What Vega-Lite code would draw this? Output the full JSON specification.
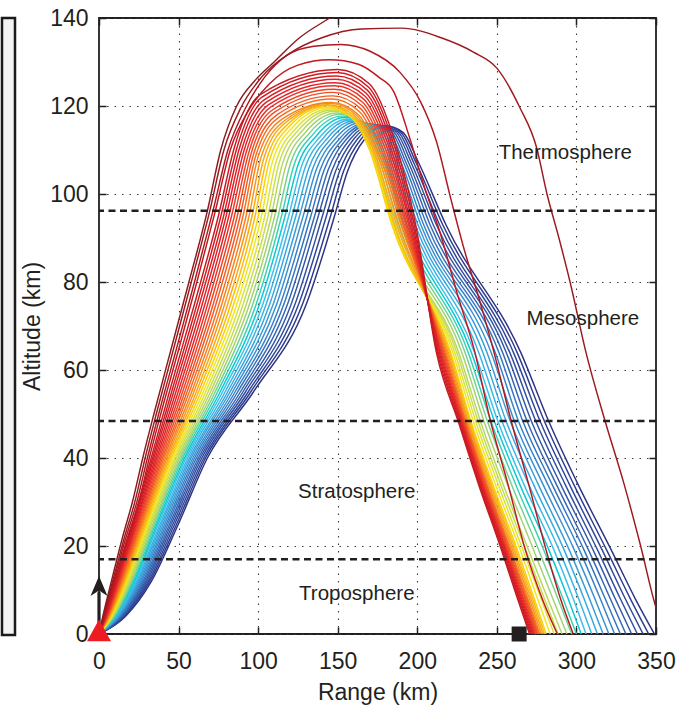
{"$schema":"https://vega.github.io/schema/vega-lite/v6.json","background":"white","padding":{"left":0,"top":6,"right":8,"bottom":4},"bounds":"flush","spacing":84,
"config":{"font":"Liberation Sans","view":{"stroke":"#231f20","strokeWidth":1.8},"axis":{"labelFont":"Liberation Sans","titleFont":"Liberation Sans","labelColor":"#231f20","titleColor":"#231f20","titleFontWeight":"normal","labelFlush":false,"domain":false}},
"datasets":{"rays":[
{"r":39,"x":0,"y":0},{"r":39,"x":16.6,"y":4},{"r":39,"x":33,"y":12},{"r":39,"x":49.9,"y":25},{"r":39,"x":68.1,"y":40},{"r":39,"x":97,"y":55},{"r":39,"x":130.3,"y":75},{"r":39,"x":148,"y":95},{"r":39,"x":156,"y":105},{"r":39,"x":167,"y":112.5},{"r":39,"x":180,"y":115.5},{"r":39,"x":191,"y":114},{"r":39,"x":201,"y":107},{"r":39,"x":218,"y":93},{"r":39,"x":265,"y":64},{"r":39,"x":283,"y":48},{"r":39,"x":301,"y":34},{"r":39,"x":322,"y":19},{"r":39,"x":337,"y":8},{"r":39,"x":349,"y":0},
{"r":38,"x":0,"y":0},{"r":38,"x":16.1,"y":4},{"r":38,"x":32,"y":12},{"r":38,"x":48.8,"y":25},{"r":38,"x":66.9,"y":40},{"r":38,"x":95.3,"y":55},{"r":38,"x":127.9,"y":75},{"r":38,"x":145.5,"y":95},{"r":38,"x":153.6,"y":105.1},{"r":38,"x":164.7,"y":112.5},{"r":38,"x":178,"y":115.6},{"r":38,"x":189.4,"y":114.1},{"r":38,"x":199.4,"y":107},{"r":38,"x":216,"y":93},{"r":38,"x":262.7,"y":64},{"r":38,"x":280.3,"y":48},{"r":38,"x":298.3,"y":34},{"r":38,"x":319.1,"y":19},{"r":38,"x":333.9,"y":8},{"r":38,"x":345.4,"y":0},
{"r":37,"x":0,"y":0},{"r":37,"x":15.5,"y":4},{"r":37,"x":31.1,"y":12},{"r":37,"x":47.6,"y":25},{"r":37,"x":65.8,"y":40},{"r":37,"x":93.7,"y":55},{"r":37,"x":125.5,"y":75},{"r":37,"x":142.9,"y":95},{"r":37,"x":151.1,"y":105.1},{"r":37,"x":162.4,"y":112.5},{"r":37,"x":176,"y":115.6},{"r":37,"x":187.9,"y":114.1},{"r":37,"x":197.9,"y":107},{"r":37,"x":214,"y":93},{"r":37,"x":260.4,"y":64},{"r":37,"x":277.6,"y":48},{"r":37,"x":295.6,"y":34},{"r":37,"x":316.3,"y":19},{"r":37,"x":330.7,"y":8},{"r":37,"x":341.9,"y":0},
{"r":36,"x":0,"y":0},{"r":36,"x":15,"y":4},{"r":36,"x":30.2,"y":12},{"r":36,"x":46.5,"y":25},{"r":36,"x":64.6,"y":40},{"r":36,"x":92,"y":55},{"r":36,"x":123.2,"y":75},{"r":36,"x":140.4,"y":95},{"r":36,"x":148.7,"y":105.2},{"r":36,"x":160.1,"y":112.5},{"r":36,"x":174,"y":115.7},{"r":36,"x":186.3,"y":114.2},{"r":36,"x":196.3,"y":107},{"r":36,"x":212,"y":93},{"r":36,"x":258.1,"y":64},{"r":36,"x":274.9,"y":48},{"r":36,"x":292.9,"y":34},{"r":36,"x":313.4,"y":19},{"r":36,"x":327.6,"y":8},{"r":36,"x":338.3,"y":0},
{"r":35,"x":0,"y":0},{"r":35,"x":14.5,"y":4},{"r":35,"x":29.3,"y":12},{"r":35,"x":45.4,"y":25},{"r":35,"x":63.5,"y":40},{"r":35,"x":90.4,"y":55},{"r":35,"x":120.8,"y":75},{"r":35,"x":137.8,"y":95},{"r":35,"x":146.3,"y":105.3},{"r":35,"x":157.9,"y":112.5},{"r":35,"x":172,"y":115.8},{"r":35,"x":184.7,"y":114.3},{"r":35,"x":194.7,"y":107},{"r":35,"x":210,"y":93},{"r":35,"x":255.9,"y":64},{"r":35,"x":272.1,"y":48},{"r":35,"x":290.1,"y":34},{"r":35,"x":310.6,"y":19},{"r":35,"x":324.4,"y":8},{"r":35,"x":334.7,"y":0},
{"r":34,"x":0,"y":0},{"r":34,"x":14,"y":4},{"r":34,"x":28.4,"y":12},{"r":34,"x":44.4,"y":25},{"r":34,"x":62.4,"y":40},{"r":34,"x":88.8,"y":55},{"r":34,"x":118.5,"y":75},{"r":34,"x":135.5,"y":95},{"r":34,"x":143.9,"y":105.4},{"r":34,"x":155.6,"y":112.5},{"r":34,"x":170,"y":115.9},{"r":34,"x":183.1,"y":114.4},{"r":34,"x":193.1,"y":107},{"r":34,"x":208,"y":93},{"r":34,"x":253.6,"y":64},{"r":34,"x":269.4,"y":48},{"r":34,"x":287.4,"y":34},{"r":34,"x":307.7,"y":19},{"r":34,"x":321.3,"y":8},{"r":34,"x":331.1,"y":0},
{"r":33,"x":0,"y":0},{"r":33,"x":13.5,"y":4},{"r":33,"x":27.6,"y":12},{"r":33,"x":43.3,"y":25},{"r":33,"x":61.2,"y":40},{"r":33,"x":87.1,"y":55},{"r":33,"x":116.2,"y":75},{"r":33,"x":133.1,"y":95},{"r":33,"x":141.4,"y":105.4},{"r":33,"x":153.3,"y":112.5},{"r":33,"x":168,"y":115.9},{"r":33,"x":181.6,"y":114.4},{"r":33,"x":191.6,"y":107},{"r":33,"x":206,"y":93},{"r":33,"x":251.3,"y":64},{"r":33,"x":266.7,"y":48},{"r":33,"x":284.7,"y":34},{"r":33,"x":304.9,"y":19},{"r":33,"x":318.1,"y":8},{"r":33,"x":327.6,"y":0},
{"r":32,"x":0,"y":0},{"r":32,"x":13,"y":4},{"r":32,"x":26.7,"y":12},{"r":32,"x":42.3,"y":25},{"r":32,"x":60.1,"y":40},{"r":32,"x":85.5,"y":55},{"r":32,"x":114,"y":75},{"r":32,"x":130.7,"y":95},{"r":32,"x":139,"y":105.5},{"r":32,"x":151,"y":112.5},{"r":32,"x":166,"y":116},{"r":32,"x":180,"y":114.5},{"r":32,"x":190,"y":107},{"r":32,"x":204,"y":93},{"r":32,"x":249,"y":64},{"r":32,"x":264,"y":48},{"r":32,"x":282,"y":34},{"r":32,"x":302,"y":19},{"r":32,"x":315,"y":8},{"r":32,"x":324,"y":0},
{"r":31,"x":0,"y":0},{"r":31,"x":12.5,"y":4},{"r":31,"x":25.9,"y":12},{"r":31,"x":41.3,"y":25},{"r":31,"x":59,"y":40},{"r":31,"x":83.9,"y":55},{"r":31,"x":111.7,"y":75},{"r":31,"x":128.3,"y":95},{"r":31,"x":136.6,"y":105.6},{"r":31,"x":148.6,"y":112.6},{"r":31,"x":164,"y":116.2},{"r":31,"x":178,"y":114.7},{"r":31,"x":188.2,"y":107.2},{"r":31,"x":202.2,"y":93},{"r":31,"x":246.4,"y":64},{"r":31,"x":261.4,"y":48},{"r":31,"x":279,"y":34},{"r":31,"x":298.8,"y":19},{"r":31,"x":311.6,"y":8},{"r":31,"x":320.4,"y":0},
{"r":30,"x":0,"y":0},{"r":30,"x":12.1,"y":4},{"r":30,"x":25.1,"y":12},{"r":30,"x":40.3,"y":25},{"r":30,"x":57.9,"y":40},{"r":30,"x":82.3,"y":55},{"r":30,"x":109.5,"y":75},{"r":30,"x":126,"y":95},{"r":30,"x":134.2,"y":105.7},{"r":30,"x":146.2,"y":112.7},{"r":30,"x":162,"y":116.4},{"r":30,"x":176,"y":114.9},{"r":30,"x":186.4,"y":107.4},{"r":30,"x":200.4,"y":93},{"r":30,"x":243.8,"y":64},{"r":30,"x":258.8,"y":48},{"r":30,"x":276,"y":34},{"r":30,"x":295.6,"y":19},{"r":30,"x":308.2,"y":8},{"r":30,"x":316.8,"y":0},
{"r":29,"x":0,"y":0},{"r":29,"x":11.6,"y":4},{"r":29,"x":24.3,"y":12},{"r":29,"x":39.3,"y":25},{"r":29,"x":56.9,"y":40},{"r":29,"x":80.8,"y":55},{"r":29,"x":107.3,"y":75},{"r":29,"x":123.7,"y":95},{"r":29,"x":131.8,"y":105.8},{"r":29,"x":143.8,"y":112.8},{"r":29,"x":160,"y":116.6},{"r":29,"x":174,"y":115.1},{"r":29,"x":184.6,"y":107.6},{"r":29,"x":198.6,"y":93},{"r":29,"x":241.2,"y":64},{"r":29,"x":256.2,"y":48},{"r":29,"x":273,"y":34},{"r":29,"x":292.4,"y":19},{"r":29,"x":304.8,"y":8},{"r":29,"x":313.2,"y":0},
{"r":28,"x":0,"y":0},{"r":28,"x":11.2,"y":4},{"r":28,"x":23.6,"y":12},{"r":28,"x":38.4,"y":25},{"r":28,"x":55.8,"y":40},{"r":28,"x":79.2,"y":55},{"r":28,"x":105.1,"y":75},{"r":28,"x":121.4,"y":95},{"r":28,"x":129.4,"y":105.9},{"r":28,"x":141.4,"y":112.9},{"r":28,"x":158,"y":116.8},{"r":28,"x":172,"y":115.3},{"r":28,"x":182.8,"y":107.8},{"r":28,"x":196.8,"y":93},{"r":28,"x":238.6,"y":64},{"r":28,"x":253.6,"y":48},{"r":28,"x":270,"y":34},{"r":28,"x":289.2,"y":19},{"r":28,"x":301.4,"y":8},{"r":28,"x":309.6,"y":0},
{"r":27,"x":0,"y":0},{"r":27,"x":10.7,"y":4},{"r":27,"x":22.8,"y":12},{"r":27,"x":37.4,"y":25},{"r":27,"x":54.7,"y":40},{"r":27,"x":77.6,"y":55},{"r":27,"x":103,"y":75},{"r":27,"x":119.2,"y":95},{"r":27,"x":127,"y":106},{"r":27,"x":139,"y":113},{"r":27,"x":156,"y":117},{"r":27,"x":170,"y":115.5},{"r":27,"x":181,"y":108},{"r":27,"x":195,"y":93},{"r":27,"x":236,"y":64},{"r":27,"x":251,"y":48},{"r":27,"x":267,"y":34},{"r":27,"x":286,"y":19},{"r":27,"x":298,"y":8},{"r":27,"x":306,"y":0},
{"r":26,"x":0,"y":0},{"r":26,"x":10.3,"y":4},{"r":26,"x":22.1,"y":12},{"r":26,"x":36.5,"y":25},{"r":26,"x":53.7,"y":40},{"r":26,"x":76.1,"y":55},{"r":26,"x":100.9,"y":75},{"r":26,"x":116.9,"y":95},{"r":26,"x":124.6,"y":106.1},{"r":26,"x":136.8,"y":113.3},{"r":26,"x":154.4,"y":117.4},{"r":26,"x":168.6,"y":115.7},{"r":26,"x":179.6,"y":108.2},{"r":26,"x":193.2,"y":93},{"r":26,"x":234,"y":64},{"r":26,"x":248.8,"y":48},{"r":26,"x":264.4,"y":34},{"r":26,"x":282.8,"y":19},{"r":26,"x":294.8,"y":8},{"r":26,"x":303,"y":0},
{"r":25,"x":0,"y":0},{"r":25,"x":9.9,"y":4},{"r":25,"x":21.3,"y":12},{"r":25,"x":35.6,"y":25},{"r":25,"x":52.6,"y":40},{"r":25,"x":74.5,"y":55},{"r":25,"x":98.8,"y":75},{"r":25,"x":114.7,"y":95},{"r":25,"x":122.2,"y":106.2},{"r":25,"x":134.6,"y":113.6},{"r":25,"x":152.8,"y":117.7},{"r":25,"x":167.2,"y":115.9},{"r":25,"x":178.2,"y":108.4},{"r":25,"x":191.4,"y":93},{"r":25,"x":232,"y":64},{"r":25,"x":246.6,"y":48},{"r":25,"x":261.8,"y":34},{"r":25,"x":279.6,"y":19},{"r":25,"x":291.6,"y":8},{"r":25,"x":300,"y":0},
{"r":24,"x":0,"y":0},{"r":24,"x":9.5,"y":4},{"r":24,"x":20.6,"y":12},{"r":24,"x":34.7,"y":25},{"r":24,"x":51.6,"y":40},{"r":24,"x":73,"y":55},{"r":24,"x":96.7,"y":75},{"r":24,"x":112.6,"y":95},{"r":24,"x":119.8,"y":106.3},{"r":24,"x":132.4,"y":113.9},{"r":24,"x":151.2,"y":118.1},{"r":24,"x":165.8,"y":116.1},{"r":24,"x":176.8,"y":108.6},{"r":24,"x":189.6,"y":93},{"r":24,"x":230,"y":64},{"r":24,"x":244.4,"y":48},{"r":24,"x":259.2,"y":34},{"r":24,"x":276.4,"y":19},{"r":24,"x":288.4,"y":8},{"r":24,"x":297,"y":0},
{"r":23,"x":0,"y":0},{"r":23,"x":9.1,"y":4},{"r":23,"x":20,"y":12},{"r":23,"x":33.9,"y":25},{"r":23,"x":50.6,"y":40},{"r":23,"x":71.5,"y":55},{"r":23,"x":94.6,"y":75},{"r":23,"x":110.4,"y":95},{"r":23,"x":117.4,"y":106.4},{"r":23,"x":130.2,"y":114.2},{"r":23,"x":149.6,"y":118.4},{"r":23,"x":164.4,"y":116.3},{"r":23,"x":175.4,"y":108.8},{"r":23,"x":187.8,"y":93},{"r":23,"x":228,"y":64},{"r":23,"x":242.2,"y":48},{"r":23,"x":256.6,"y":34},{"r":23,"x":273.2,"y":19},{"r":23,"x":285.2,"y":8},{"r":23,"x":294,"y":0},
{"r":22,"x":0,"y":0},{"r":22,"x":8.7,"y":4},{"r":22,"x":19.3,"y":12},{"r":22,"x":33,"y":25},{"r":22,"x":49.6,"y":40},{"r":22,"x":70,"y":55},{"r":22,"x":92.6,"y":75},{"r":22,"x":108.3,"y":95},{"r":22,"x":115,"y":106.5},{"r":22,"x":128,"y":114.5},{"r":22,"x":148,"y":118.8},{"r":22,"x":163,"y":116.5},{"r":22,"x":174,"y":109},{"r":22,"x":186,"y":93},{"r":22,"x":226,"y":64},{"r":22,"x":240,"y":48},{"r":22,"x":254,"y":34},{"r":22,"x":270,"y":19},{"r":22,"x":282,"y":8},{"r":22,"x":291,"y":0},
{"r":21,"x":0,"y":0},{"r":21,"x":8.3,"y":4},{"r":21,"x":18.6,"y":12},{"r":21,"x":32.2,"y":25},{"r":21,"x":48.6,"y":40},{"r":21,"x":68.5,"y":55},{"r":21,"x":90.6,"y":75},{"r":21,"x":106.2,"y":95},{"r":21,"x":113,"y":106.8},{"r":21,"x":126,"y":114.8},{"r":21,"x":146.5,"y":119.1},{"r":21,"x":161.8,"y":116.8},{"r":21,"x":173,"y":109.3},{"r":21,"x":185.5,"y":93},{"r":21,"x":224.8,"y":64},{"r":21,"x":238.5,"y":48},{"r":21,"x":252.4,"y":34},{"r":21,"x":268.3,"y":19},{"r":21,"x":279.9,"y":8},{"r":21,"x":288.5,"y":0},
{"r":20,"x":0,"y":0},{"r":20,"x":8,"y":4},{"r":20,"x":18,"y":12},{"r":20,"x":31.4,"y":25},{"r":20,"x":47.6,"y":40},{"r":20,"x":67,"y":55},{"r":20,"x":88.6,"y":75},{"r":20,"x":104.2,"y":95},{"r":20,"x":111,"y":107},{"r":20,"x":124,"y":115},{"r":20,"x":145,"y":119.3},{"r":20,"x":160.5,"y":117},{"r":20,"x":172,"y":109.5},{"r":20,"x":185,"y":93},{"r":20,"x":223.5,"y":64},{"r":20,"x":237,"y":48},{"r":20,"x":250.8,"y":34},{"r":20,"x":266.5,"y":19},{"r":20,"x":277.8,"y":8},{"r":20,"x":286,"y":0},
{"r":19,"x":0,"y":0},{"r":19,"x":7.6,"y":4},{"r":19,"x":17.4,"y":12},{"r":19,"x":30.6,"y":25},{"r":19,"x":46.6,"y":40},{"r":19,"x":65.5,"y":55},{"r":19,"x":86.6,"y":75},{"r":19,"x":102.1,"y":95},{"r":19,"x":109,"y":107.3},{"r":19,"x":122,"y":115.3},{"r":19,"x":143.5,"y":119.6},{"r":19,"x":159.3,"y":117.3},{"r":19,"x":171,"y":109.8},{"r":19,"x":184.5,"y":93},{"r":19,"x":222.3,"y":64},{"r":19,"x":235.5,"y":48},{"r":19,"x":249.1,"y":34},{"r":19,"x":264.8,"y":19},{"r":19,"x":275.6,"y":8},{"r":19,"x":283.5,"y":0},
{"r":18,"x":0,"y":0},{"r":18,"x":7.3,"y":4},{"r":18,"x":16.8,"y":12},{"r":18,"x":29.8,"y":25},{"r":18,"x":45.6,"y":40},{"r":18,"x":64,"y":55},{"r":18,"x":84.7,"y":75},{"r":18,"x":100.1,"y":95},{"r":18,"x":107,"y":107.5},{"r":18,"x":120,"y":115.5},{"r":18,"x":142,"y":119.8},{"r":18,"x":158,"y":117.5},{"r":18,"x":170,"y":110},{"r":18,"x":184,"y":93},{"r":18,"x":221,"y":64},{"r":18,"x":234,"y":48},{"r":18,"x":247.5,"y":34},{"r":18,"x":263,"y":19},{"r":18,"x":273.5,"y":8},{"r":18,"x":281,"y":0},
{"r":17,"x":0,"y":0},{"r":17,"x":6.9,"y":4},{"r":17,"x":16.2,"y":12},{"r":17,"x":29.1,"y":25},{"r":17,"x":44.6,"y":40},{"r":17,"x":62.5,"y":55},{"r":17,"x":82.8,"y":75},{"r":17,"x":98.1,"y":95},{"r":17,"x":105.3,"y":107.8},{"r":17,"x":118.8,"y":115.9},{"r":17,"x":143,"y":120.1},{"r":17,"x":159.3,"y":117.6},{"r":17,"x":171.8,"y":109.5},{"r":17,"x":185.5,"y":93},{"r":17,"x":220.3,"y":64},{"r":17,"x":233.3,"y":48},{"r":17,"x":246.6,"y":34},{"r":17,"x":262,"y":19},{"r":17,"x":272.5,"y":8},{"r":17,"x":280,"y":0},
{"r":16,"x":0,"y":0},{"r":16,"x":6.6,"y":4},{"r":16,"x":15.6,"y":12},{"r":16,"x":28.3,"y":25},{"r":16,"x":43.7,"y":40},{"r":16,"x":61.1,"y":55},{"r":16,"x":80.9,"y":75},{"r":16,"x":96.2,"y":95},{"r":16,"x":103.5,"y":108},{"r":16,"x":117.5,"y":116.3},{"r":16,"x":144,"y":120.3},{"r":16,"x":160.5,"y":117.8},{"r":16,"x":173.5,"y":109},{"r":16,"x":187,"y":93},{"r":16,"x":219.5,"y":64},{"r":16,"x":232.5,"y":48},{"r":16,"x":245.8,"y":34},{"r":16,"x":261,"y":19},{"r":16,"x":271.5,"y":8},{"r":16,"x":279,"y":0},
{"r":15,"x":0,"y":0},{"r":15,"x":6.3,"y":4},{"r":15,"x":15.1,"y":12},{"r":15,"x":27.6,"y":25},{"r":15,"x":42.7,"y":40},{"r":15,"x":59.6,"y":55},{"r":15,"x":79,"y":75},{"r":15,"x":94.3,"y":95},{"r":15,"x":101.8,"y":108.3},{"r":15,"x":116.3,"y":116.6},{"r":15,"x":145,"y":120.6},{"r":15,"x":161.8,"y":117.9},{"r":15,"x":175.3,"y":108.5},{"r":15,"x":188.5,"y":93},{"r":15,"x":218.8,"y":64},{"r":15,"x":231.8,"y":48},{"r":15,"x":244.9,"y":34},{"r":15,"x":260,"y":19},{"r":15,"x":270.5,"y":8},{"r":15,"x":278,"y":0},
{"r":14,"x":0,"y":0},{"r":14,"x":6,"y":4},{"r":14,"x":14.6,"y":12},{"r":14,"x":26.9,"y":25},{"r":14,"x":41.8,"y":40},{"r":14,"x":58.2,"y":55},{"r":14,"x":77.2,"y":75},{"r":14,"x":92.4,"y":95},{"r":14,"x":100,"y":108.5},{"r":14,"x":115,"y":117},{"r":14,"x":146,"y":120.8},{"r":14,"x":163,"y":118},{"r":14,"x":177,"y":108},{"r":14,"x":190,"y":93},{"r":14,"x":218,"y":64},{"r":14,"x":231,"y":48},{"r":14,"x":244,"y":34},{"r":14,"x":259,"y":19},{"r":14,"x":269.5,"y":8},{"r":14,"x":277,"y":0},
{"r":13,"x":0,"y":0},{"r":13,"x":5.7,"y":4},{"r":13,"x":14,"y":12},{"r":13,"x":26.3,"y":25},{"r":13,"x":40.8,"y":40},{"r":13,"x":56.7,"y":55},{"r":13,"x":75.4,"y":75},{"r":13,"x":90.5,"y":95},{"r":13,"x":98.5,"y":108.7},{"r":13,"x":113.6,"y":117.6},{"r":13,"x":146.4,"y":121.6},{"r":13,"x":163.7,"y":118.7},{"r":13,"x":177.8,"y":108.5},{"r":13,"x":190.9,"y":93},{"r":13,"x":217.4,"y":64},{"r":13,"x":230.5,"y":48},{"r":13,"x":243.5,"y":34},{"r":13,"x":258.4,"y":19},{"r":13,"x":268.9,"y":8},{"r":13,"x":276.4,"y":0},
{"r":12,"x":0,"y":0},{"r":12,"x":5.4,"y":4},{"r":12,"x":13.6,"y":12},{"r":12,"x":25.6,"y":25},{"r":12,"x":39.9,"y":40},{"r":12,"x":55.3,"y":55},{"r":12,"x":73.5,"y":75},{"r":12,"x":88.7,"y":95},{"r":12,"x":97,"y":108.9},{"r":12,"x":112.2,"y":118.1},{"r":12,"x":146.8,"y":122.3},{"r":12,"x":164.4,"y":119.4},{"r":12,"x":178.6,"y":109},{"r":12,"x":191.8,"y":93},{"r":12,"x":216.8,"y":64},{"r":12,"x":230,"y":48},{"r":12,"x":242.9,"y":34},{"r":12,"x":257.8,"y":19},{"r":12,"x":268.2,"y":8},{"r":12,"x":275.7,"y":0},
{"r":11,"x":0,"y":0},{"r":11,"x":5.1,"y":4},{"r":11,"x":13.1,"y":12},{"r":11,"x":25,"y":25},{"r":11,"x":39,"y":40},{"r":11,"x":53.9,"y":55},{"r":11,"x":71.8,"y":75},{"r":11,"x":86.9,"y":95},{"r":11,"x":95.5,"y":109.1},{"r":11,"x":110.8,"y":118.7},{"r":11,"x":147.2,"y":123.1},{"r":11,"x":165.1,"y":120.1},{"r":11,"x":179.4,"y":109.5},{"r":11,"x":192.7,"y":93},{"r":11,"x":216.2,"y":64},{"r":11,"x":229.5,"y":48},{"r":11,"x":242.4,"y":34},{"r":11,"x":257.2,"y":19},{"r":11,"x":267.6,"y":8},{"r":11,"x":275.1,"y":0},
{"r":10,"x":0,"y":0},{"r":10,"x":4.9,"y":4},{"r":10,"x":12.6,"y":12},{"r":10,"x":24.3,"y":25},{"r":10,"x":38.1,"y":40},{"r":10,"x":52.5,"y":55},{"r":10,"x":70,"y":75},{"r":10,"x":85.1,"y":95},{"r":10,"x":94,"y":109.3},{"r":10,"x":109.4,"y":119.2},{"r":10,"x":147.6,"y":123.8},{"r":10,"x":165.8,"y":120.8},{"r":10,"x":180.2,"y":110},{"r":10,"x":193.6,"y":93},{"r":10,"x":215.6,"y":64},{"r":10,"x":229,"y":48},{"r":10,"x":241.8,"y":34},{"r":10,"x":256.6,"y":19},{"r":10,"x":266.9,"y":8},{"r":10,"x":274.4,"y":0},
{"r":9,"x":0,"y":0},{"r":9,"x":4.6,"y":4},{"r":9,"x":12.2,"y":12},{"r":9,"x":23.7,"y":25},{"r":9,"x":37.2,"y":40},{"r":9,"x":51.1,"y":55},{"r":9,"x":68.3,"y":75},{"r":9,"x":83.3,"y":95},{"r":9,"x":92.5,"y":109.5},{"r":9,"x":108,"y":119.8},{"r":9,"x":148,"y":124.6},{"r":9,"x":166.5,"y":121.5},{"r":9,"x":181,"y":110.5},{"r":9,"x":194.5,"y":93},{"r":9,"x":215,"y":64},{"r":9,"x":228.5,"y":48},{"r":9,"x":241.3,"y":34},{"r":9,"x":256,"y":19},{"r":9,"x":266.3,"y":8},{"r":9,"x":273.8,"y":0},
{"r":8,"x":0,"y":0},{"r":8,"x":4.4,"y":4},{"r":8,"x":11.7,"y":12},{"r":8,"x":23.1,"y":25},{"r":8,"x":36.3,"y":40},{"r":8,"x":49.7,"y":55},{"r":8,"x":66.6,"y":75},{"r":8,"x":81.6,"y":95},{"r":8,"x":91,"y":109.7},{"r":8,"x":106.6,"y":120.3},{"r":8,"x":148.4,"y":125.3},{"r":8,"x":167.2,"y":122.2},{"r":8,"x":181.8,"y":111},{"r":8,"x":195.4,"y":93},{"r":8,"x":214.4,"y":64},{"r":8,"x":228,"y":48},{"r":8,"x":240.7,"y":34},{"r":8,"x":255.4,"y":19},{"r":8,"x":265.6,"y":8},{"r":8,"x":273.1,"y":0},
{"r":7,"x":0,"y":0},{"r":7,"x":4.1,"y":4},{"r":7,"x":11.3,"y":12},{"r":7,"x":22.6,"y":25},{"r":7,"x":35.4,"y":40},{"r":7,"x":48.3,"y":55},{"r":7,"x":64.9,"y":75},{"r":7,"x":79.9,"y":95},{"r":7,"x":89.5,"y":109.9},{"r":7,"x":105.2,"y":120.9},{"r":7,"x":148.8,"y":126.1},{"r":7,"x":167.9,"y":122.9},{"r":7,"x":182.6,"y":111.5},{"r":7,"x":196.3,"y":93},{"r":7,"x":213.8,"y":64},{"r":7,"x":227.5,"y":48},{"r":7,"x":240.2,"y":34},{"r":7,"x":254.8,"y":19},{"r":7,"x":265,"y":8},{"r":7,"x":272.5,"y":0},
{"r":6,"x":0,"y":0},{"r":6,"x":3.9,"y":4},{"r":6,"x":10.9,"y":12},{"r":6,"x":22,"y":25},{"r":6,"x":34.5,"y":40},{"r":6,"x":46.9,"y":55},{"r":6,"x":63.2,"y":75},{"r":6,"x":78.3,"y":95},{"r":6,"x":88,"y":110.1},{"r":6,"x":103.8,"y":121.4},{"r":6,"x":149.2,"y":126.8},{"r":6,"x":168.6,"y":123.6},{"r":6,"x":183.4,"y":112},{"r":6,"x":197.2,"y":93},{"r":6,"x":213.2,"y":64},{"r":6,"x":227,"y":48},{"r":6,"x":239.6,"y":34},{"r":6,"x":254.2,"y":19},{"r":6,"x":264.3,"y":8},{"r":6,"x":271.8,"y":0},
{"r":5,"x":0,"y":0},{"r":5,"x":3.7,"y":4},{"r":5,"x":10.6,"y":12},{"r":5,"x":21.5,"y":25},{"r":5,"x":33.7,"y":40},{"r":5,"x":45.6,"y":55},{"r":5,"x":61.6,"y":75},{"r":5,"x":76.6,"y":95},{"r":5,"x":86.5,"y":110.3},{"r":5,"x":102.4,"y":122},{"r":5,"x":149.6,"y":127.6},{"r":5,"x":169.3,"y":124.3},{"r":5,"x":184.2,"y":112.5},{"r":5,"x":198.1,"y":93},{"r":5,"x":212.6,"y":64},{"r":5,"x":226.5,"y":48},{"r":5,"x":239.1,"y":34},{"r":5,"x":253.6,"y":19},{"r":5,"x":263.7,"y":8},{"r":5,"x":271.2,"y":0},
{"r":4,"x":0,"y":0},{"r":4,"x":3.5,"y":4},{"r":4,"x":10.2,"y":12},{"r":4,"x":21,"y":25},{"r":4,"x":32.8,"y":40},{"r":4,"x":44.2,"y":55},{"r":4,"x":60,"y":75},{"r":4,"x":75,"y":95},{"r":4,"x":85,"y":110.5},{"r":4,"x":101,"y":122.5},{"r":4,"x":150,"y":128.3},{"r":4,"x":170,"y":125},{"r":4,"x":185,"y":113},{"r":4,"x":199,"y":93},{"r":4,"x":212,"y":64},{"r":4,"x":226,"y":48},{"r":4,"x":238.5,"y":34},{"r":4,"x":253,"y":19},{"r":4,"x":263,"y":8},{"r":4,"x":270.5,"y":0},
{"r":3,"x":0,"y":0},{"r":3,"x":3.2,"y":4},{"r":3,"x":9.7,"y":12},{"r":3,"x":18,"y":22},{"r":3,"x":25,"y":30},{"r":3,"x":31.6,"y":40},{"r":3,"x":38.8,"y":50},{"r":3,"x":50.3,"y":65},{"r":3,"x":61.5,"y":80},{"r":3,"x":73,"y":96},{"r":3,"x":82.5,"y":110},{"r":3,"x":94,"y":119},{"r":3,"x":107,"y":125},{"r":3,"x":125,"y":129.3},{"r":3,"x":145,"y":130.5},{"r":3,"x":163,"y":129.5},{"r":3,"x":176,"y":126.5},{"r":3,"x":185,"y":123.4},{"r":3,"x":195,"y":113},{"r":3,"x":205,"y":101},{"r":3,"x":214,"y":91.6},{"r":3,"x":225,"y":77.5},{"r":3,"x":236,"y":64.3},{"r":3,"x":246,"y":48.4},{"r":3,"x":257,"y":34},{"r":3,"x":268,"y":19},{"r":3,"x":278.5,"y":8},{"r":3,"x":288,"y":0},
{"r":2,"x":0,"y":0},{"r":2,"x":3,"y":4},{"r":2,"x":9.2,"y":12},{"r":2,"x":17,"y":22},{"r":2,"x":23.8,"y":30},{"r":2,"x":30.4,"y":40},{"r":2,"x":37.5,"y":50},{"r":2,"x":48.8,"y":65},{"r":2,"x":60,"y":80},{"r":2,"x":71.5,"y":96},{"r":2,"x":81,"y":110},{"r":2,"x":92,"y":119.5},{"r":2,"x":104,"y":126.5},{"r":2,"x":118,"y":131.5},{"r":2,"x":135,"y":133.6},{"r":2,"x":152,"y":134},{"r":2,"x":170,"y":132.5},{"r":2,"x":189,"y":127.7},{"r":2,"x":202,"y":121},{"r":2,"x":212,"y":112},{"r":2,"x":221,"y":99},{"r":2,"x":229,"y":88},{"r":2,"x":239,"y":76},{"r":2,"x":248,"y":64.3},{"r":2,"x":259,"y":48.4},{"r":2,"x":270,"y":34},{"r":2,"x":281,"y":19},{"r":2,"x":290,"y":8},{"r":2,"x":298,"y":0},
{"r":1,"x":0,"y":0},{"r":1,"x":2.7,"y":4},{"r":1,"x":8.6,"y":12},{"r":1,"x":16,"y":22},{"r":1,"x":22.5,"y":30},{"r":1,"x":29,"y":40},{"r":1,"x":36,"y":50},{"r":1,"x":47,"y":65},{"r":1,"x":58,"y":80},{"r":1,"x":69.5,"y":96},{"r":1,"x":78.5,"y":110},{"r":1,"x":89,"y":119.5},{"r":1,"x":102,"y":126.5},{"r":1,"x":120,"y":132},{"r":1,"x":140,"y":135.5},{"r":1,"x":165,"y":137.5},{"r":1,"x":190,"y":137.7},{"r":1,"x":215,"y":135.5},{"r":1,"x":235,"y":132.3},{"r":1,"x":250,"y":128.6},{"r":1,"x":264.5,"y":119.6},{"r":1,"x":275,"y":110.5},{"r":1,"x":281.5,"y":100},{"r":1,"x":289,"y":90},{"r":1,"x":296,"y":80},{"r":1,"x":306,"y":64},{"r":1,"x":318,"y":48.4},{"r":1,"x":330,"y":34},{"r":1,"x":340,"y":20.5},{"r":1,"x":350,"y":6},{"r":1,"x":356,"y":0},
{"r":0,"x":0,"y":0},{"r":0,"x":2.4,"y":4},{"r":0,"x":7.8,"y":12},{"r":0,"x":14.8,"y":22},{"r":0,"x":21,"y":30},{"r":0,"x":27.5,"y":40},{"r":0,"x":34.5,"y":50},{"r":0,"x":45.5,"y":65},{"r":0,"x":56.5,"y":80},{"r":0,"x":68,"y":96},{"r":0,"x":76.5,"y":110},{"r":0,"x":86.5,"y":120},{"r":0,"x":98.5,"y":126},{"r":0,"x":110,"y":130},{"r":0,"x":126,"y":135.5},{"r":0,"x":145,"y":140},{"r":0,"x":165,"y":144.5}
]},
"hconcat":[
{"width":13,"height":617,"view":{"fill":"#f3f3f3","stroke":"#1a1a1a","strokeWidth":2.5},"data":{"values":[]},"mark":"point"},
{"width":557,"height":616,"resolve":{"axis":{"x":"independent","y":"independent"}},
"layer":[
{"data":{"name":"rays"},"mark":{"type":"line","clip":true,"strokeWidth":1.45,"interpolate":"monotone"},
"encoding":{
"x":{"field":"x","type":"quantitative","scale":{"domain":[0,350],"nice":false,"zero":false},"axis":{"orient":"bottom","values":[0,50,100,150,200,250,300,350],"title":"Range (km)","ticks":false,"grid":true,"gridDash":[1.5,6],"gridColor":"#3a3a3a","gridWidth":1.1,"labelFontSize":23,"labelPadding":16,"titleFontSize":23,"titlePadding":8,"labelFlush":false}},
"y":{"field":"y","type":"quantitative","scale":{"domain":[0,140],"nice":false,"zero":false},"axis":{"orient":"left","values":[0,20,40,60,80,100,120,140],"title":"Altitude (km)","ticks":false,"grid":true,"gridDash":[1.5,6],"gridColor":"#3a3a3a","gridWidth":1.1,"labelFontSize":23,"labelPadding":11,"titleFontSize":23,"titlePadding":5,"labelFlush":false}},
"color":{"field":"r","type":"quantitative","scale":{"domain":[0,3,8,12,15,19,23,27,31,35,39],"range":["#8b1a1d","#c0161d","#e3232a","#f15a24","#f7941d","#f3e51a","#a5d16f","#3dbfe9","#3a8fd0","#3557a8","#2b3385"]},"legend":null},
"detail":{"field":"r","type":"nominal"}}},
{"data":{"values":[{"h":17},{"h":48.4},{"h":96.2}]},"mark":{"type":"rule","strokeDash":[7,4.5],"strokeWidth":2.6,"color":"#231f20"},
"encoding":{"y":{"field":"h","type":"quantitative","scale":{"domain":[0,140],"nice":false,"zero":false},"axis":{"orient":"left","values":[0,20,40,60,80,100,120,140],"labels":false,"tickSize":-7,"tickWidth":1.5,"tickColor":"#231f20","grid":false,"title":null}}}},
{"data":{"values":[{"t":"Thermosphere","x":293,"y":109.3},{"t":"Mesosphere","x":304,"y":71.6},{"t":"Stratosphere","x":162,"y":32.3},{"t":"Troposphere","x":162,"y":9.1}]},
"mark":{"type":"text","fontSize":20.5,"color":"#231f20","font":"Liberation Sans","align":"center","baseline":"middle"},
"encoding":{"x":{"field":"x","type":"quantitative","scale":{"domain":[0,350],"nice":false,"zero":false},"axis":{"orient":"top","values":[0,50,100,150,200,250,300,350],"labels":false,"tickSize":-7,"tickWidth":1.5,"tickColor":"#231f20","grid":false,"title":null}},
"y":{"field":"y","type":"quantitative","scale":{"domain":[0,140],"nice":false,"zero":false},"axis":{"orient":"right","values":[0,20,40,60,80,100,120,140],"labels":false,"tickSize":-7,"tickWidth":1.5,"tickColor":"#231f20","grid":false,"title":null}},
"text":{"field":"t"}}},
{"data":{"values":[{"x":0,"y":0,"y2":9.5}]},"mark":{"type":"rule","strokeWidth":3.2,"color":"#231f20"},
"encoding":{"x":{"field":"x","type":"quantitative","scale":{"domain":[0,350],"nice":false,"zero":false},"axis":{"orient":"bottom","values":[0,50,100,150,200,250,300,350],"labels":false,"tickSize":-7,"tickWidth":1.5,"tickColor":"#231f20","grid":false,"title":null}},
"y":{"field":"y","type":"quantitative","scale":{"domain":[0,140],"nice":false,"zero":false},"axis":null},"y2":{"field":"y2"}}},
{"data":{"values":[{"x":0,"y":10.9}]},"mark":{"type":"point","filled":true,"shape":"M0,-1L0.85,1L0,0.45L-0.85,1Z","size":400,"color":"#231f20","opacity":1},
"encoding":{"x":{"field":"x","type":"quantitative","scale":{"domain":[0,350],"nice":false,"zero":false},"axis":null},"y":{"field":"y","type":"quantitative","scale":{"domain":[0,140],"nice":false,"zero":false},"axis":null}}},
{"data":{"values":[{"x":0,"y":0}]},"mark":{"type":"point","filled":true,"shape":"M0,-1.2L1,0.6L-1,0.6Z","size":576,"color":"#ed1c24","opacity":1},
"encoding":{"x":{"field":"x","type":"quantitative","scale":{"domain":[0,350],"nice":false,"zero":false},"axis":null},"y":{"field":"y","type":"quantitative","scale":{"domain":[0,140],"nice":false,"zero":false},"axis":null}}},
{"data":{"values":[{"x":264,"y":0}]},"mark":{"type":"point","filled":true,"shape":"square","size":225,"color":"#231f20","opacity":1},
"encoding":{"x":{"field":"x","type":"quantitative","scale":{"domain":[0,350],"nice":false,"zero":false},"axis":null},"y":{"field":"y","type":"quantitative","scale":{"domain":[0,140],"nice":false,"zero":false},"axis":null}}}
]}
]}
